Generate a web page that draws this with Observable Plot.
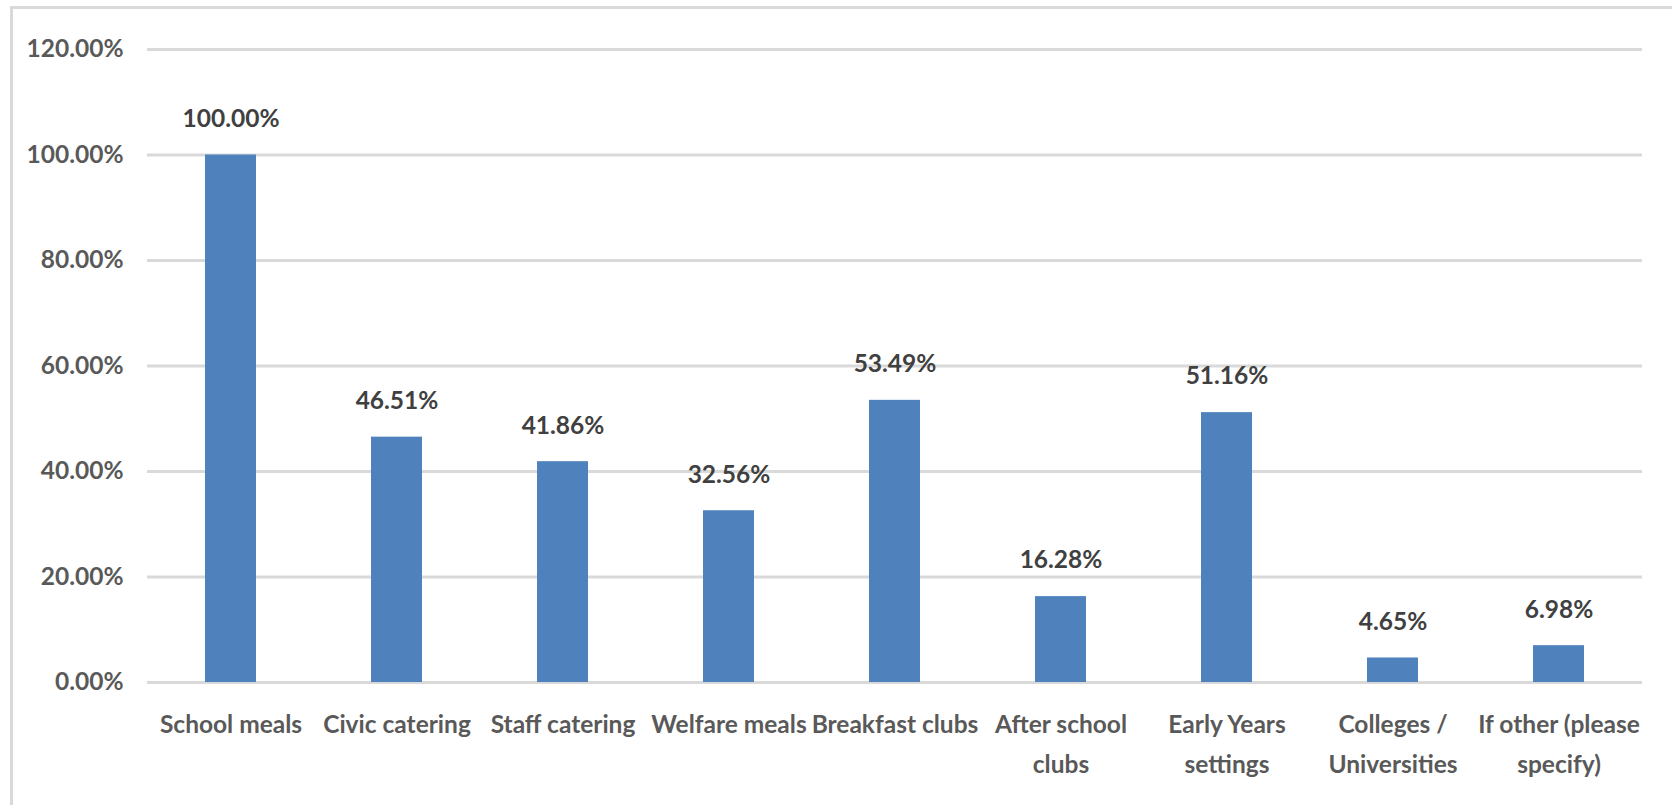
<!DOCTYPE html>
<html>
<head>
<meta charset="utf-8">
<script src="https://cdn.jsdelivr.net/npm/d3@7"></script>
<script src="https://cdn.jsdelivr.net/npm/@observablehq/plot@0.6"></script>
<style>
  html, body { margin: 0; padding: 0; background: #fff; }
  #wrap { position: relative; width: 1672px; height: 805px; overflow: hidden; }
  #border { position: absolute; left: 10px; top: 6px; width: 1700px; height: 900px;
            border-left: 3px solid #d9d9d9; border-top: 3px solid #d9d9d9; }
  #chart { position: absolute; left: 0; top: 0; }
</style>
</head>
<body>
<div id="wrap"><div id="border"></div><div id="chart"></div></div>
<script>
const categories = [
  "School meals", "Civic catering", "Staff catering", "Welfare meals",
  "Breakfast clubs", "After school\nclubs", "Early Years\nsettings",
  "Colleges /\nUniversities", "If other (please\nspecify)"
];
const values = [100.00, 46.51, 41.86, 32.56, 53.49, 16.28, 51.16, 4.65, 6.98];
const yTicks = [0, 20, 40, 60, 80, 100, 120];

const data = categories.map((c, i) => ({category: c, value: values[i]}));
const pct = d3.format(".2%");
const FONT = "Lato, 'Open Sans', sans-serif";

const chart = Plot.plot({
  width: 1672,
  height: 805,
  marginLeft: 147,
  marginRight: 30,
  marginTop: 49,
  marginBottom: 123,
  style: {fontFamily: FONT, background: "transparent"},
  x: {domain: categories, paddingInner: 0.69, paddingOuter: 0.345, label: null},
  y: {domain: [0, 120], ticks: yTicks, label: null},
  marks: [
    Plot.gridY(yTicks, {stroke: "#d9d9d9", strokeOpacity: 1, strokeWidth: 3}),
    Plot.barY(data, {x: "category", y: "value", fill: "#4f81bd"}),
    Plot.text(data, {
      x: "category", y: "value", text: d => pct(d.value / 100),
      dy: -36, fontSize: 24.5, fontWeight: "bold", fill: "#404040"
    }),
    Plot.axisY(yTicks, {
      tickSize: 0, tickPadding: 24, tickFormat: d => pct(d / 100),
      fontSize: 24.5, fontWeight: "bold", fill: "#595959", label: null
    }),
    Plot.axisX({
      tickSize: 0, tickPadding: 22, fontSize: 24.5, fontWeight: "bold",
      fill: "#595959", lineHeight: 1.64, label: null
    })
  ]
});
document.getElementById("chart").appendChild(chart);
</script>
</body>
</html>
